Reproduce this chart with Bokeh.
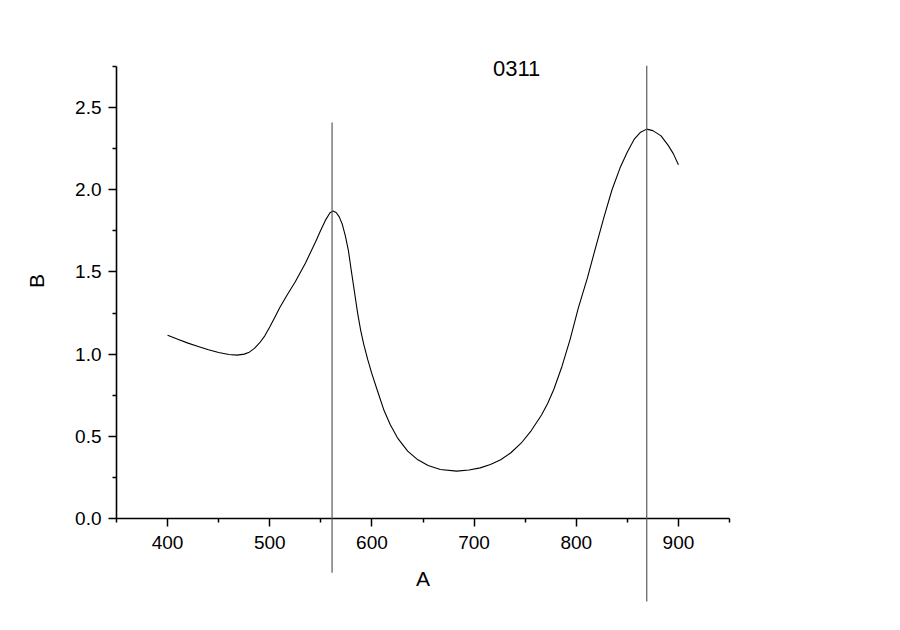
from bokeh.plotting import figure
from bokeh.models import FixedTicker, PrintfTickFormatter, Range1d
from bokeh.core.properties import value
from bokeh.embed import file_html
from bokeh.resources import INLINE
import math

# Curve data
wavelength = [400, 410, 420, 430, 440, 450, 460, 468, 475, 480, 485, 490, 495,
              500, 505, 510, 517, 525, 535, 545, 550, 555, 559, 562, 565, 568,
              571, 574, 577, 580, 583, 586, 589, 592, 596, 600, 605, 612, 618,
              625, 635, 645, 655, 667, 683, 695, 706, 716, 726, 736, 746, 756,
              766, 772, 778, 786, 794, 802, 811, 819, 827, 835, 843, 850, 857,
              863, 869, 875, 883, 890, 895, 900]
absorb = [1.115, 1.090, 1.067, 1.047, 1.027, 1.010, 0.998, 0.994, 1.000, 1.012,
          1.035, 1.068, 1.110, 1.165, 1.225, 1.285, 1.360, 1.440, 1.555, 1.685,
          1.755, 1.820, 1.860, 1.871, 1.862, 1.835, 1.790, 1.720, 1.630, 1.500,
          1.375, 1.250, 1.145, 1.060, 0.965, 0.880, 0.785, 0.655, 0.570, 0.491,
          0.410, 0.357, 0.322, 0.298, 0.288, 0.295, 0.308, 0.328, 0.357, 0.400,
          0.458, 0.535, 0.630, 0.700, 0.785, 0.925, 1.090, 1.280, 1.465, 1.650,
          1.830, 2.000, 2.135, 2.230, 2.310, 2.350, 2.369, 2.360, 2.328, 2.270,
          2.220, 2.152]

# Vertical marker lines
marker_x = [561, 869]
marker_top = [2.41, 2.755]
marker_bottom = [-0.33, -0.505]

x_major = [400, 500, 600, 700, 800, 900]
x_minor = [350, 450, 550, 650, 750, 850, 950]
y_major = [0.0, 0.5, 1.0, 1.5, 2.0, 2.5]
y_minor = [0.25, 0.75, 1.25, 1.75, 2.25, 2.75]

title_text = "0311"
x_title = "A"
y_title = "B"

FONT = "Liberation Sans"

p = figure(width=884, height=614, output_backend="svg", toolbar_location=None,
           x_range=Range1d(350, 950), y_range=Range1d(0, 2.75),
           min_border_left=116, min_border_right=155,
           min_border_top=66, min_border_bottom=96)
p.outline_line_color = None
p.grid.visible = False
p.background_fill_color = "white"
p.border_fill_color = "white"

p.line(wavelength, absorb, line_color="black", line_width=1.1)
p.segment(x0=marker_x, y0=marker_bottom, x1=marker_x, y1=marker_top,
          line_color="#5a5a5a", line_width=1.2, level="overlay")

for ax in (p.xaxis[0], p.yaxis[0]):
    ax.axis_line_width = 1.6
    ax.axis_line_color = "black"
    ax.major_tick_line_width = 1.5
    ax.minor_tick_line_width = 1.5
    ax.major_tick_line_color = "black"
    ax.minor_tick_line_color = "black"
    ax.major_tick_out = 8
    ax.major_tick_in = 0
    ax.minor_tick_out = 4
    ax.minor_tick_in = 0
    ax.major_label_text_font = FONT
    ax.major_label_text_font_size = "19px"
    ax.major_label_text_color = "black"

p.xaxis[0].ticker = FixedTicker(ticks=x_major, minor_ticks=x_minor)
p.yaxis[0].ticker = FixedTicker(ticks=y_major, minor_ticks=y_minor)
p.yaxis[0].formatter = PrintfTickFormatter(format="%.1f")
p.xaxis[0].major_label_standoff = 9
p.yaxis[0].major_label_standoff = 7

p.xaxis[0].axis_label = x_title
p.xaxis[0].axis_label_text_font = FONT
p.xaxis[0].axis_label_text_font_size = "21px"
p.xaxis[0].axis_label_text_font_style = "normal"
p.xaxis[0].axis_label_text_color = "black"
p.xaxis[0].axis_label_standoff = 15

# Y-axis title (rotated) and chart title, drawn as text glyphs so they are not clipped
p.text(x=[271.4], y=[1.445], text=[y_title], angle=math.pi / 2,
       text_align="center", text_baseline="middle",
       text_font=value(FONT), text_font_size="21px", text_color="black",
       level="overlay")
p.text(x=[741.7], y=[2.739], text=[title_text],
       text_align="center", text_baseline="middle",
       text_font=value(FONT), text_font_size="22px", text_color="black",
       level="overlay")

open("out.html", "w").write(file_html(p, INLINE))
